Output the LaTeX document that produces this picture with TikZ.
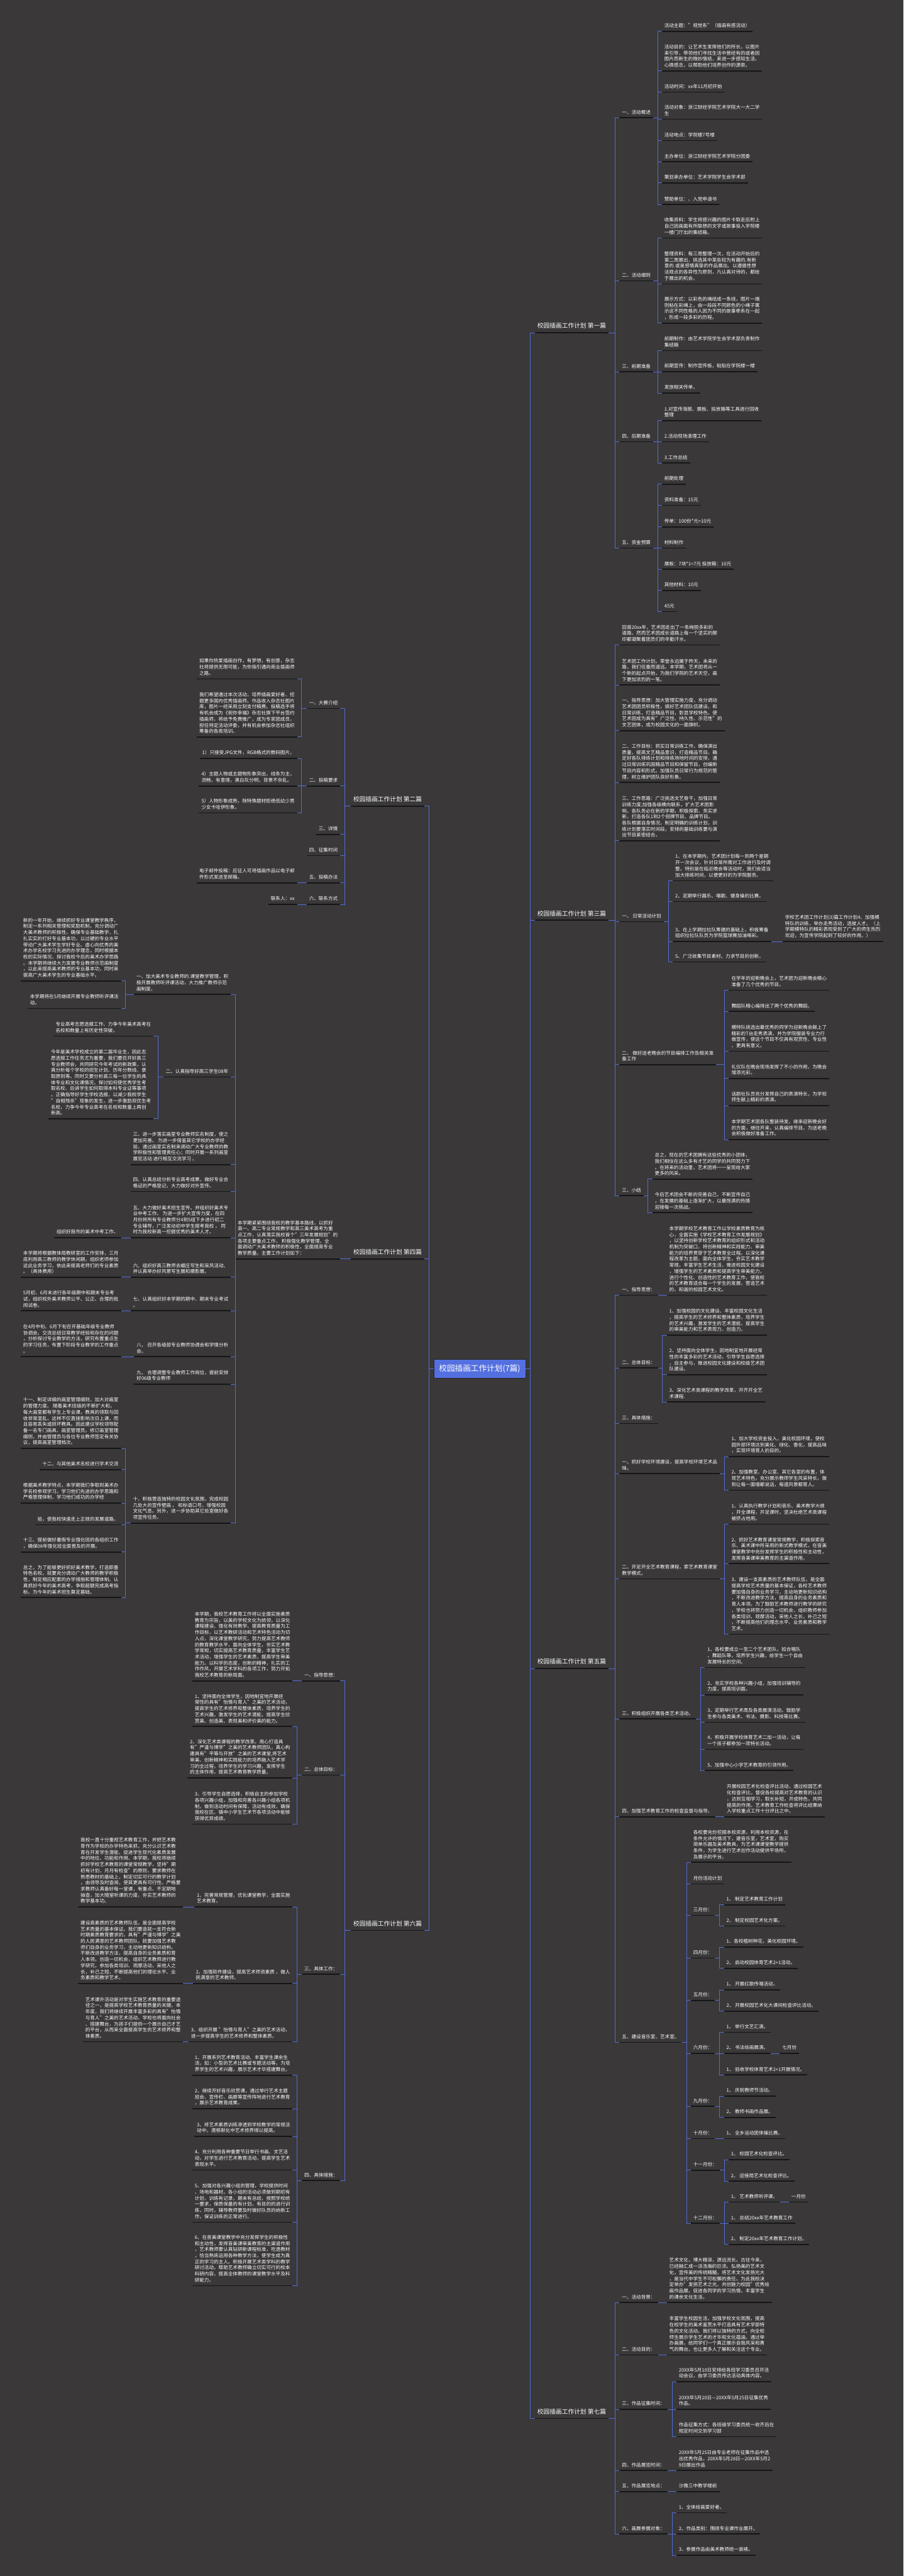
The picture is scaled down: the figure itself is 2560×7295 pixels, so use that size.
\documentclass[tikz,border=0pt]{standalone}
\usepackage{fontspec}
\setmainfont{Noto Sans CJK SC}
\usetikzlibrary{calc}
\definecolor{bgdark}{RGB}{58,56,57}
\definecolor{linkblue}{RGB}{82,108,214}
\definecolor{rootblue}{RGB}{84,112,224}
\definecolor{ulblack}{RGB}{22,22,22}
\newcommand{\leaffont}{\fontsize{13.5}{17.3}\selectfont}
\newcommand{\sheetfont}{\fontsize{17.3}{21}\selectfont}
\newcommand{\centerfont}{\fontsize{22.5}{27}\selectfont}

\begin{document}
\begin{tikzpicture}[x=1pt, y=-1pt,
  every node/.style={text=white, font=\leaffont, align=left, inner xsep=7pt, inner ysep=9.5pt},
  uline/.style={draw=ulblack, line width=3pt},
  topic/.style={append after command={(\tikzlastnode.south west) edge[uline] (\tikzlastnode.south east)}},
  kidR/.style={topic, anchor=south west},
  kidL/.style={topic, anchor=south east},
  sheet/.style={font=\sheetfont, inner ysep=11pt, inner xsep=7.5pt},
  link/.style={draw=linkblue, line width=1.5pt},
  rootbox/.style={fill=rootblue, draw=black!85, line width=1pt, font=\centerfont, minimum width=260pt, minimum height=54pt, inner sep=0pt}]

\useasboundingbox (0,0) rectangle (2560,7295);
\fill[bgdark] (0,0) rectangle (2560,7295);

\node[rootbox] (root) at (1359,3876) {校园插画工作计划(7篇)};

% sheets
\node[kidR, sheet] (p1) at (1515,942) {校园插画工作计划 第一篇};
\node[kidL, sheet] (p2) at (1203,2283) {校园插画工作计划 第二篇};
\node[kidR, sheet] (p3) at (1515,2606) {校园插画工作计划 第三篇};
\node[kidL, sheet] (p4) at (1203,3565) {校园插画工作计划 第四篇};
\node[kidR, sheet] (p5) at (1515,4725) {校园插画工作计划 第五篇};
\node[kidL, sheet] (p6) at (1203,5467) {校园插画工作计划 第六篇};
\node[kidR, sheet] (p7) at (1515,6849) {校园插画工作计划 第七篇};

% first
\node[kidR] (p1a) at (1755,333.5) {一、活动概述};
\node[kidR] (p1a1) at (1875,88.6) {活动主题："视觉系"（插画有感活动）};
\node[kidR] (p1a2) at (1875,200.8) {活动目的：让艺术生发挥他们的所长，以图片\\来引导，带领他们寻找生活中曾经有的或者因\\图片而新生的微妙情结，来进一步感知生活。\\心换感念，以帮助他们培养创作的源泉。};
\node[kidR] (p1a3) at (1875,261) {活动时间：xx年11月初开始};
\node[kidR] (p1a4) at (1875,337.5) {活动对象：浙江财经学院艺术学院大一大二学\\生};
\node[kidR] (p1a5) at (1875,397.8) {活动地点：学院楼7号楼};
\node[kidR] (p1a6) at (1875,458) {主办单位：浙江财经学院艺术学院分团委};
\node[kidR] (p1a7) at (1875,518) {策划承办单位：艺术学院学生会学术部};
\node[kidR] (p1a8) at (1875,579) {赞助单位：、入党申请书};
\node[kidR] (p1b) at (1755,795) {二、活动细则};
\node[kidR] (p1b1) at (1875,674) {收集资料：学生将感兴趣的图片卡取走后附上\\自己因画面有所联想的文字或故事投入学院楼\\一楼门厅出的集结箱。};
\node[kidR] (p1b2) at (1875,804) {整理资料：每三周整理一次，在活动开始后的\\第二周展出，挑选其中某些较为有趣的.有新\\意的.或是感情真挚的作品展出。以遵循性想\\法观点的各异性为原则，凡认真对待的，都给\\于展出的机会。};
\node[kidR] (p1b3) at (1875,915) {展示方式：以彩色的绳结成一条线，图片一端\\则粘在彩绳上，由一段段不同颜色的小绳子寓\\示这不同性格的人因为不同的故事牵系在一起\\，形成一段多彩的历程。};
\node[kidR] (p1c) at (1755,1053) {三、前期准备};
\node[kidR] (p1c1) at (1875,993) {前期制作：由艺术学院学生会学术部负责制作\\集结箱};
\node[kidR] (p1c2) at (1875,1053) {前期宣传：制作宣传板，粘贴在学院楼一楼};
\node[kidR] (p1c3) at (1875,1113) {发放相关传单。};
\node[kidR] (p1d) at (1755,1251) {四、后期准备};
\node[kidR] (p1d1) at (1875,1191) {1.对宣传海报、展板、投放箱等工具进行回收\\整理};
\node[kidR] (p1d2) at (1875,1251) {2.活动现场清理工作};
\node[kidR] (p1d3) at (1875,1311) {3.工作总结};
\node[kidR] (p1e) at (1755,1552) {五、资金预算};
\node[kidR] (p1e1) at (1875,1371) {前期处理};
\node[kidR] (p1e2) at (1875,1431) {资料准备：15元};
\node[kidR] (p1e3) at (1875,1492) {传单：100份*元=10元};
\node[kidR] (p1e4) at (1875,1552) {材料制作};
\node[kidR] (p1e5) at (1875,1612) {展板：7块*1=7元 投放箱：10元};
\node[kidR] (p1e6) at (1875,1672) {其他材料：10元};
\node[kidR] (p1e7) at (1875,1732) {45元};

% second
\node[kidL] (p2a) at (964,2006) {一、大赛介绍};
\node[kidL] (p2a1) at (842,1922.5) {如果你热爱插画创作，有梦想，有创意，杂志\\社将提供无限可能，为你指引通向商业插画师\\之路。};
\node[kidL] (p2a2) at (842,2087) {我们希望通过本次活动，培养插画爱好者、挖\\掘更多国内优秀插画师。作品收入杂志社图片\\库，图片一经采用立刻支付稿费。投稿选手将\\有机会成为《祝你幸福》杂志社旗下平台签约\\插画师，将给予免费推广，成为专家团成员，\\担任特定活动评委，并有机会参加杂志社组织\\筹备的各类培训。};
\node[kidL] (p2b) at (964,2226) {二、投稿要求};
\node[kidL] (p2b1) at (842,2148) {1）只接受JPG文件，RGB格式的数码图片。};
\node[kidL] (p2b2) at (842,2226) {4）主题人物或主题物形象突出，线条为主，\\流畅，有意境，黑白灰分明，背景不杂乱。};
\node[kidL] (p2b3) at (842,2302) {5）人物形象成熟，除特殊题材拒绝低幼少男\\少女卡哇伊形象。};
\node[kidL] (p2c) at (964,2363) {三、详情};
\node[kidL] (p2d) at (964,2423) {四、征集时间};
\node[kidL] (p2e) at (964,2500) {五、投稿办法};
\node[kidL] (p2e1) at (842,2500) {电子邮件投稿：应征人可将插画作品以电子邮\\件形式发送至邮箱。};
\node[kidL] (p2f) at (964,2561) {六、联系方式};
\node[kidL] (p2f1) at (842,2561) {联系人：xx};

% third
\node[kidR] (p3a) at (1755,1826.5) {回首20xx年，艺术团走出了一条绚丽多彩的\\道路，然而艺术团成长道路上每一个坚实的脚\\印都凝聚着团员们的辛勤汗水。};
\node[kidR] (p3b) at (1755,1940) {艺术团工作计划。荣誉永远属于昨天，未来的\\路，我们任重而道远。本学期，艺术团将从一\\个新的起点开始，为我们学院的艺术天空，画\\下更加浓烈的一笔。};
\node[kidR] (p3c) at (1755,2069) {一、指导思想：加大管理实施力度，充分调动\\艺术团团员积极性，搞好艺术团队伍建设，和\\日常训练，打造精品节目，彰显学校特色，使\\艺术团成为具有"广泛性、持久性、示范性"的\\文艺团体，成为校园文化的一面旗帜。};
\node[kidR] (p3d) at (1755,2216) {二、工作目标：抓实日常训练工作，确保演出\\质量，提高文艺精品意识，打造精品节目。确\\定好各队排练计划和排练场地时间的安排，通\\过日常训练巩固精品节目和保留节目，创编新\\节目内容和形式。加强队员日常行为规范的管\\理，树立维护团队良好形象。};
\node[kidR] (p3e) at (1755,2381) {三、工作思路：广泛挑选文艺骨干，加强日常\\训练力度;加强各级横向联系，扩大艺术团影\\响。各队务必在新的学期，积极探索、务实求\\新，打造各队1到2个招牌节目、品牌节目。\\各队根据自身情况，制定明确的训练计划，训\\练计划要落实时间段，安排的基础训练要与演\\出节目紧密结合。};
\node[kidR] (p3f) at (1755,2610) {一、 日常活动计划};
\node[kidR] (p3f1) at (1906,2494) {1、在本学期内，艺术团计划每一到两个星期\\开一次会议，针对日常所需对工作进行及时调\\整。特别是在临近晚会等活动时，我们会适当\\加大排练时间，以便更好的为学院服务。};
\node[kidR] (p3f2) at (1906,2553) {2、定期举行器乐、唱歌、健身操的比赛。};
\node[kidR] (p3f3) at (1906,2666) {3、在上学期拉拉队筹建的基础上，积极筹备\\组织拉拉队队员为学院篮球赛加油喝彩。};
\node[kidR] (p3f3a) at (2217,2666) {学校艺术团工作计划(3)篇工作计划4、加强模\\特队的训练，举办走秀活动，选拔人才。（上\\学期模特队的精彩表现受到了广大的师生热烈\\欢迎，为宣传学院起到了较好的作用。）};
\node[kidR] (p3f4) at (1906,2724) {5、广泛收集节目素材，力求节目的创新。};
\node[kidR] (p3g) at (1755,3015) {二、 做好送老晚会的节目编排工作及相关准\\备工作};
\node[kidR] (p3g1) at (2065,2804) {在学年的迎新晚会上，艺术团为迎新晚会精心\\准备了几个优秀的节目。};
\node[kidR] (p3g2) at (2065,2864) {舞蹈队精心编排出了两个优秀的舞蹈。};
\node[kidR] (p3g3) at (2065,2977) {模特队挑选出最优秀的同学为迎新晚会献上了\\精彩的T台走秀表演，并为学院服装专业力行\\做宣传，使这个节目不仅具有观赏性、专业性\\、更具有意义。};
\node[kidR] (p3g4) at (2065,3054) {礼仪队在晚会现场发挥了不小的作用，为晚会\\增添光彩。};
\node[kidR] (p3g5) at (2065,3131) {话剧社队员充分发挥自己的表演特长，为学校\\师生献上精彩的表演。};
\node[kidR] (p3g6) at (2065,3227) {本学期艺术团各队整装待发，继承迎新晚会好\\的方面，继往开来，认真编排节目。为送老晚\\会积极做好准备工作。};
\node[kidR] (p3h) at (1755,3386) {三、小结};
\node[kidR] (p3h1) at (1848,3339) {总之，现在的艺术团拥有这些优秀的小团体，\\我们相信在这么多有才艺的同学的共同努力下\\。在将来的活动里，艺术团将一一呈现给大家\\更多的风采。};
\node[kidR] (p3h2) at (1848,3434) {今后艺术团会不断的完善自己，不断宣传自己\\，在发展的基础上逐渐扩大，以最饱满的热情\\迎接每一次挑战。};

% fourth
\node[kidL] (p4a) at (964,3565) {本学期紧紧围绕我校的教学基本路线，以抓好\\高一、高二专业常规教学和高三美术高考为重\\点工作，认真落实我校首个"三年发展规划"的\\各项主要重点工作， 积极强化教学管理，全\\面调动广大美术教师的积极性，全面提高专业\\教学质量。主要工作计划如下：};
\node[kidL] (p4a1) at (654,2816) {一、加大美术专业教师的.课堂教学管理，积\\极开展教师听评课活动，大力推广教师示范\\画制度。};
\node[kidL] (p4a1a) at (343,2778) {新的一年开始，继续抓好专业课堂教学秩序，\\制定一系列相关管理和奖励机制。充分调动广\\大美术教师的积极性，确保专业基础教学，扎\\扎实实的打好专业基本功，以过硬的专业水平\\带动广大美术学生学好专业。虚心向优秀的美\\术办学名校学习先进的办学理念，同时根据本\\校的实际情况，探讨我校今后的美术办学思路\\。本学期将继续大力发展专业教师示范画制度\\，以此来提高美术教师的专业基本功，同时来\\提高广大美术学生的专业基础水平。};
\node[kidL] (p4a1b) at (343,2856) {本学期将在5月继续开展专业教师听评课活\\动。};
\node[kidL] (p4a2) at (654,3050) {二、认真指导好高三学生08年};
\node[kidL] (p4a2a) at (435,2934) {专业高考志愿选报工作、力争今年美术高考在\\名校和数量上有历史性突破。};
\node[kidL] (p4a2b) at (435,3168) {今年是美术学校成立的第二届毕业生，因此志\\愿选报工作任务尤为重要，我们要召开好高三\\专业教师会，共同研究今年考试的新政策，认\\真分析每个学校的招生计划、历年分数线、录\\取原则等。同时又要分析高三每一位学生的具\\体专业和文化课情况，探讨如何使优秀学生考\\取名校、后讲学生如何取得本科专业证等事项\\。正确指导好学生学校选报，以减少我校学生\\"自相残杀"现象的发生，进一步激励双优生考\\名校，力争今年专业高考在名校和数量上再创\\新高。};
\node[kidL] (p4a3) at (654,3298) {三、进一步落实画室专业教师实名制度，使之\\更加完善。 为进一步借鉴其它学校的办学经\\验，通过画室实名制来调动广大专业教师的教\\学积极性和管理责任心；同时开展一系列画室\\展览活动 进行相互交流学习 。};
\node[kidL] (p4a4) at (654,3374) {四、认真总结分析专业高考成果，做好专业合\\格证的严格登记，大力做好对外宣传。};
\node[kidL] (p4a5) at (654,3505) {五、大力做好美术招生宣传。并组织好美术专\\业中考工作。 为进一步扩大宣传力度，在四\\月份将所有专业教师分4到5组下乡进行初二\\专业辅导，广泛发动初中学生报考我校 ， 同\\时为我校新高一挖掘优秀的美术人才。};
\node[kidL] (p4a5a) at (343,3505) {组织好我市的美术中考工作。};
\node[kidL] (p4a6) at (654,3617) {六、组织好高三教师去嵋庄写生和采风活动、\\并认真举办好风景写生展和摄影展。};
\node[kidL] (p4a6a) at (343,3617) {本学期将根据教体局教研室的工作安排，三月\\底利用高三教师的教学休闲期，组织老师参加\\这此业务学习，依此来提高老师们的专业素质\\。（具体费用）};
\node[kidL] (p4a7) at (654,3712) {七、认真组织好本学期的期中、期末专业考试\\。};
\node[kidL] (p4a7a) at (343,3712) {5月初、6月末进行各年级期中和期末专业考\\试，组织校外美术教师公平、公正、合理的批\\阅试卷。};
\node[kidL] (p4a8) at (654,3842) {八、 召开各级部专业教师协调会和学情分析\\会。};
\node[kidL] (p4a8a) at (343,3842) {在4月中旬、6月下旬召开基础年级专业教师\\协调会，交流总结日常教学经验和存在的问题\\，分析探讨专业教学的方法，研究布置重点生\\的学习任务，布置下阶段专业教学的工作重点\\。};
\node[kidL] (p4a9) at (654,3920) {九、 合理调整专业教师工作岗位，提前安排\\好06级专业教师};
\node[kidL] (p4a10) at (654,4313) {十、积极营造独特的校园文化氛围，完成校园\\几处大的宣传壁画 ， 和标语口号，增强校园\\文化气息。另外，进一步协助其它处室做好各\\项宣传任务。};
\node[kidL] (p4a10a) at (343,4102) {十一、制定详细的画室管理细则，加大对画室\\的管理力度。 随着美术班级的不断扩大和，\\每大画室都有学生上专业课，教具的领取与回\\收非常混乱，这样不仅直接影响次日上课，而\\且容易丢失或损坏教具。因此建议学校领导配\\备一名专门画具、画室管理员。修订画室管理\\细则，并由管理员与各位专业教师签定有关协\\议，提高画室管理档次。};
\node[kidL] (p4a10b) at (343,4162) {十二、与其他美术名校进行学术交流};
\node[kidL] (p4a10c) at (343,4257) {根据美术教学特点，本学期我们争取到美术办\\学名校参观学习。学习他们先进的办学思路和\\严格管理体制，学习他们成功的办学经};
\node[kidL] (p4a10d) at (343,4318) {验，使我校快速走上正规的发展道路。};
\node[kidL] (p4a10e) at (343,4395) {十三、提前做好暑假专业强化班的各组织工作\\，确保08年强化班全面普及的开展。};
\node[kidL] (p4a10f) at (343,4524) {总之，为了能够更好抓好美术教学，打造即墨\\特色名校。就要充分调动广大教师的教学积极\\性，制定相应配套的办学措施和管理体制。认\\真抓好今年的美术高考，争取超额完成高考指\\标。为今年的美术招生奠定基础。};

% fifth
\node[kidR] (p5a) at (1755,3668) {一、指导思想：};
\node[kidR] (p5a1) at (1889,3668) {本学期学校艺术教育工作以学校素质教育为核\\心，全面实施《学校艺术教育工作发展规划》\\，以坚持创新学校艺术教育的组织形式和活动\\机制为突破口，将创新精神和实践能力、审美\\能力的培养贯穿于艺术教育全过程。以深化课\\程改革为主题，面向全体学生，夯实艺术教学\\常规，丰富学生艺术生活，推进校园文化建设\\，增强学生的艺术素质和提高学生审美能力，\\进行个性化、创造性的艺术教育工作，使我校\\的艺术教育适合每一个学生的发展，营造艺术\\的、和谐的校园艺术文化。};
\node[kidR] (p5b) at (1755,3874) {二、总体目标：};
\node[kidR] (p5b1) at (1889,3781) {1、加强校园的文化建设、丰富校园文化生活\\，提高学生的艺术修养和整体素质，培养学生\\的艺术兴趣，激发学生的艺术潜能，提高学生\\的审美能力和艺术表现力、创造力。};
\node[kidR] (p5b2) at (1889,3893) {2、坚持面向全体学生，因地制宜地开展经常\\性的丰富多彩的艺术活动，引导学生自愿选择\\，自主参与，推进校园文化建设和校级艺术团\\队建设。};
\node[kidR] (p5b3) at (1889,3970) {3、深化艺术类课程的教学改革，开齐开全艺\\术课程.};
\node[kidR] (p5c) at (1755,4031) {三、具体措施：};
\node[kidR] (p5d) at (1755,4173) {一、抓好学校环境建设，提高学校环境艺术品\\味。};
\node[kidR] (p5d1) at (2065,4125) {1、加大学校资金投入，美化校园环境，使校\\园外部环境达到美化、绿化、香化，提高品味\\，实现环境育人的目的。};
\node[kidR] (p5d2) at (2065,4220) {2、加强教室、办公室、其它各室的布置，体\\现艺术特色，充分展示教师学生风采特长，做\\到让每一面墙都说话，每道风景都育人。};
\node[kidR] (p5e) at (1755,4471) {二、开足开全艺术教育课程，索艺术教育课堂\\教学模式。};
\node[kidR] (p5e1) at (2065,4316) {1、认真执行教学计划和音乐、美术教学大纲\\，开全课程，开足课时，坚决杜绝艺术类课程\\被挤占他用。};
\node[kidR] (p5e2) at (2065,4428) {2、抓好艺术教育课堂常规教学，积极探索音\\乐、美术课中所采用的新式教学模式，在音美\\课堂教学中充份发挥学生的积极性和主动性，\\发挥音美课审美教育的主渠道作用。};
\node[kidR] (p5e3) at (2065,4628) {3、建设一支高素质的艺术教师队伍，是全面\\提高学校艺术质量的基本保证，各校艺术教师\\要加强自身的业务学习，主动地更新知识结构\\，不断改进教学方法，提高自身的业务素质和\\育人本领。为了鼓励艺术教师进行教学的研究\\，学校也将努力创造一切机会，组织教师参加\\各类培训，观摩活动，采他人之长，补己之短\\，不断提高他们的理念水平、业务素质和教学\\艺术。};
\node[kidR] (p5f) at (1755,4868) {三、积极组织开展各类艺术活动。};
\node[kidR] (p5f1) at (1997,4722) {1、各校要成立一至二个艺术团队，如合唱队\\、舞蹈队等，培养学生兴趣，给学生一个自由\\发展特长的空间。};
\node[kidR] (p5f2) at (1997,4800) {2、充实学校各种兴趣小组，加强培训辅导的\\力度，提高培训面。};
\node[kidR] (p5f3) at (1997,4877) {3、定期举行艺术周及各类展演活动，鼓励学\\生参与各类美术、书法、摄影、科技等比赛。};
\node[kidR] (p5f4) at (1997,4954) {4、积极开展学校体育艺术二加一活动，让每\\一个孩子都参加一项特长活动。};
\node[kidR] (p5f5) at (1997,5014) {5、加强中心小学艺术教育的引领作用。};
\node[kidR] (p5g) at (1755,5145) {四、加强艺术教育工作的检查监督与指导。};
\node[kidR] (p5g1) at (2052,5145) {开展校园艺术化检查评比活动，通过校园艺术\\化检查评比，督促各校提高对艺术教育的认识\\，达到互相学习，取长补短，开成特色，共同\\提高的作用。艺术教育工作检查将评比结果纳\\入学校重点工作十分评比之中。};
\node[kidR] (p5h) at (1755,5784) {五、建设音乐室、艺术室。};
\node[kidR] (p5h1) at (1957,5274) {各校要充份挖掘本校资源，利用本校资源，在\\条件允许的情况下，建音乐室，艺术室，购买\\简单乐器及美术教具，为艺术课课堂教学提供\\条件，为学生进行艺术创作活动提供平场所，\\及展示的平台。};
\node[kidR] (p5h2) at (1957,5335) {月份活动计划};
\node[kidR] (p5h3) at (1957,5424) {三月份：};
\node[kidR] (p5h3a) at (2051,5394) {1、 制定艺术教育工作计划};
\node[kidR] (p5h3b) at (2051,5454) {2、 制定校园艺术化方案。};
\node[kidR] (p5h4) at (1957,5545) {四月份：};
\node[kidR] (p5h4a) at (2051,5514) {1、各校植树种花，美化校园环境。};
\node[kidR] (p5h4b) at (2051,5574) {2、 启动校园体育艺术2+1活动。};
\node[kidR] (p5h5) at (1957,5665) {五月份：};
\node[kidR] (p5h5a) at (2051,5635) {1、 开展红歌传唱活动。};
\node[kidR] (p5h5b) at (2051,5695) {2、 开展校园艺术化大课间检查评比活动。};
\node[kidR] (p5h6) at (1957,5815) {六月份：};
\node[kidR] (p5h6a) at (2051,5755) {1、 举行文艺汇演。};
\node[kidR] (p5h6b) at (2051,5815) {2、 书法绘画展演。};
\node[kidR] (p5h6d) at (2209,5815) {七月份};
\node[kidR] (p5h6c) at (2051,5876) {1、 验收学校体育艺术2+1开展情况。};
\node[kidR] (p5h7) at (1957,5965) {九月份：};
\node[kidR] (p5h7a) at (2051,5936) {1、 庆祝教师节活动。};
\node[kidR] (p5h7b) at (2051,5996) {2、 教师书画作品展。};
\node[kidR] (p5h8) at (1957,6056) {十月份：};
\node[kidR] (p5h8a) at (2051,6056) {1、 全乡运动团体操比赛。};
\node[kidR] (p5h9) at (1957,6146) {十一月份：};
\node[kidR] (p5h9a) at (2064,6116) {1、 校园艺术化检查评比。};
\node[kidR] (p5h9b) at (2064,6177) {2、 迎接局艺术化检查评比。};
\node[kidR] (p5h10) at (1957,6296) {十二月份：};
\node[kidR] (p5h10a) at (2064,6236) {1、 艺术教师听评课。};
\node[kidR] (p5h10d) at (2235,6236) {一月份};
\node[kidR] (p5h10b) at (2064,6296) {1、 总结20xx年艺术教育工作};
\node[kidR] (p5h10c) at (2064,6356) {2、 制定20xx年艺术教育工作计划。};

% sixth
\node[kidL] (p6a) at (964,4760) {一、指导思想：};
\node[kidL] (p6a1) at (829,4760) {本学期，我校艺术教育工作将以全面实施素质\\教育为宗旨，以美的学校文化为统领，以深化\\课程建设、强化有效教学、提高教育质量为工\\作目标，以艺术教研活动和艺术特色活动为切\\入点，深化课堂教学研究，努力提高艺术教师\\的教育教学水平，面向全体学生，夯实艺术教\\学常规，切实提高艺术教育质量，丰富学生艺\\术活动，增强学生的艺术素质，提高学生审美\\能力。以科学的态度，创新的精神，扎实的工\\作作风，开展艺术学科的各项工作，努力开拓\\我校艺术教育的新局面。};
\node[kidL] (p6b) at (964,5027) {二、总体目标：};
\node[kidL] (p6b1) at (829,4889) {1、坚持面向全体学生，因地制宜地开展经\\常性的具有"怡情与育人"之美的艺术活动，\\提高学生的艺术修养和整体素质，培养学生的\\艺术兴趣，激发学生的艺术潜能，提高学生欣\\赏美、创造美、表现美和评价美的能力。};
\node[kidL] (p6b2) at (829,5035) {2、深化艺术类课程的教学改革。用心打造具\\有"严谨与博学"之美的艺术教师团队，真心构\\建具有"平等与开放"之美的艺术课堂,将艺术\\审美、创新精神和实践能力的培养融入艺术学\\习的全过程，培养学生的学习兴趣，发挥学生\\的主体作用，提高艺术教育教学质量。};
\node[kidL] (p6b3) at (829,5166) {3、引导学生自愿选择，积极自主的参加学校\\各项兴趣小组，加强和完善各兴趣小组各项机\\制，做到活动时间有保障，活动有成效，确保\\我校在区、镇中小学生艺术节各项活动中能够\\获得优异成绩。};
\node[kidL] (p6c) at (964,5591) {三、具体工作：};
\node[kidL] (p6c1) at (829,5400) {1、完善常规管理，优化课堂教学，全面实施\\艺术教育。};
\node[kidL] (p6c1a) at (519,5400) {我校一直十分重视艺术教育工作，并把艺术教\\育作为学校的办学特色来抓，充分认识艺术教\\育在开发学生潜能、促进学生现代化素质发展\\中的地位、功能和作用。本学期，我校将继续\\抓好学校艺术教育的课堂常规教学，坚持"期\\初有计划，月月有检查"的原则，要求教师在\\熟悉教材的基础上，制定切实可行的教学计划\\，由领导及时查阅，使其更具有可行性。严格要\\求教师认真备好每一堂课，有重点、不定期地\\抽查，加大随堂听课的力度，夯实艺术教师的\\教学基本功。};
\node[kidL] (p6c2) at (829,5617) {2、加强软件建设，提高艺术师资素质 ，做人\\民满意的艺术教师。};
\node[kidL] (p6c2a) at (519,5617) {建设高素质的艺术教师队伍，是全面提高学校\\艺术质量的基本保证。我们要造就一支符合新\\时期素质教育要求的，具有"严谨与博学"之美\\的人民满意的艺术教师团队，就要加强艺术教\\师们自身的业务学习，主动地更新知识结构，\\不断改进教学方法，提高自身的业务素质和育\\人本领。创造一切机会，组织艺术教师进行教\\学研究，参加各类培训、观摩活动，采他人之\\长，补己之短，不断提高他们的理论水平、业\\务素质和教学艺术。};
\node[kidL] (p6c3) at (829,5782) {3、组织开展 "怡情与育人"之美的艺术活动，\\进一步提高学生的艺术修养和整体素质。};
\node[kidL] (p6c3a) at (519,5782) {艺术课外活动是对学生实施艺术教育的重要途\\径之一，是提高学校艺术教育质量的关键。本\\年度，我们将继续开展丰富多彩的具有"怡情\\与育人"之美的艺术活动，学校也将面向社会\\、搭建舞台，为孩子们提供一个展示自己才艺\\的平台，从而来全面提高学生的艺术修养和整\\体素质。};
\node[kidL] (p6d) at (964,6175) {四、具体措施：};
\node[kidL] (p6d1) at (829,5877) {1、开展系列艺术教育活动、丰富学生课余生\\活，如：小型的艺术比赛或专题活动等，为培\\养学生的艺术兴趣，展示艺术才华搭建舞台。};
\node[kidL] (p6d2) at (829,5972) {2、继续开好音乐欣赏课，通过举行艺术主题\\班会、宣传栏、画廊等宣传阵地进行艺术教育\\，展示艺术教育成果。};
\node[kidL] (p6d3) at (829,6050) {3、将艺术素质训练渗透到学校教学的常规活\\动中，潜移默化中艺术修养得以提高。};
\node[kidL] (p6d4) at (829,6145) {4、充分利用各种重要节日举行书画、文艺活\\动，对学生进行艺术教育活动，提高学生艺术\\表现水平。};
\node[kidL] (p6d5) at (829,6293) {5、加强对各兴趣小组的管理，学校提供时间\\、场地和器材。各小组的活动必须做到期初有\\计划，训练有记录，期末有总结，按照学校统\\一要求，保质保量的有计划。有目的的进行训\\练，同时，辅导教师要及时做好队员的纳新工\\作，保证训练的正常进行。};
\node[kidL] (p6d6) at (829,6473) {6、在音美课堂教学中充分发挥学生的积极性\\和主动性，发挥音美课审美教育的主渠道作用\\，艺术教师要认真钻研新课程标准，吃透教材\\，恰当熟练运用各种教学方法，使学生成为真\\正的学习的主人。积极开展艺术类学科的教学\\研讨活动，帮助艺术教师确立切实可行的校本\\科研内容，提高全体教师的课堂教学水平及科\\研能力。};

% seventh
\node[kidR] (p7a) at (1755,6520.6) {一、活动背景：};
\node[kidR] (p7a1) at (1889,6520.6) {艺术文化，博大精深，源远流长。古往今来，\\已经融汇成一派浩瀚的巨流。弘扬美的艺术文\\化，宣传美的传统精髓，将艺术文化发扬光大\\，是当代中学生不可松懈的责任。为此我校决\\定举办"发扬艺术之光，共创魅力校园"优秀绘\\画作品展。促进各同学的学习热情，丰富学生\\的课余文化生活。};
\node[kidR] (p7b) at (1755,6669) {二、活动目的：};
\node[kidR] (p7b1) at (1889,6669) {丰富学生校园生活，加强学校文化氛围，提高\\在校学生的美术鉴赏水平打造具有艺术学部特\\色的文化活动。我们将以独特的方式，向全校\\师生展示学生艺术的才华和文化蕴涵。通过举\\办画展，给同学们一个真正展示自我风采和勇\\气的舞台。也让更多人了解和关注这个专业。};
\node[kidR] (p7c) at (1755,6823) {三、作品征集时间：};
\node[kidR] (p7c1) at (1916,6745) {20XX年5月10日安排给各班学习委员召开活\\动会议，由学习委员传达活动具体内容。};
\node[kidR] (p7c2) at (1916,6823) {20XX年5月20日—20XX年5月25日征集优秀\\作品。};
\node[kidR] (p7c3) at (1916,6900.6) {作品征集方式：各班级学习委员统一收齐后在\\规定时间交到学习部};
\node[kidR] (p7d) at (1755,6996) {四、作品展览时间：};
\node[kidR] (p7d1) at (1916,6996) {20XX年5月25日由专业老师在征集作品中选\\出优秀作品，20XX年5月28日—20XX年5月2\\9日展出作品};
\node[kidR] (p7e) at (1755,7056) {五、作品展览地点：};
\node[kidR] (p7e1) at (1916,7056) {沙雅三中教学楼前};
\node[kidR] (p7f) at (1755,7176) {六、画展参展对象：};
\node[kidR] (p7f1) at (1916,7116) {1、全体绘画爱好者。};
\node[kidR] (p7f2) at (1916,7176) {2、作品类别：围绕专业课作业展开。};
\node[kidR] (p7f3) at (1916,7236) {3、参展作品由美术教师统一装裱。};

% links, right side
\foreach \c in {p1,p3,p5,p7} \draw[link] (root.east) -| ([xshift=-13pt]\c.south west) -- (\c.south west);
\foreach \c in {p2,p4,p6} \draw[link] (root.west) -| ([xshift=13pt]\c.south east) -- (\c.south east);

\foreach \p/\kids in {p1/{p1a,p1b,p1c,p1d,p1e},
    p1a/{p1a1,p1a2,p1a3,p1a4,p1a5,p1a6,p1a7,p1a8}, p1b/{p1b1,p1b2,p1b3},
    p1c/{p1c1,p1c2,p1c3}, p1d/{p1d1,p1d2,p1d3}, p1e/{p1e1,p1e2,p1e3,p1e4,p1e5,p1e6,p1e7},
    p3/{p3a,p3b,p3c,p3d,p3e,p3f,p3g,p3h}, p3f/{p3f1,p3f2,p3f3,p3f4}, p3f3/{p3f3a},
    p3g/{p3g1,p3g2,p3g3,p3g4,p3g5,p3g6}, p3h/{p3h1,p3h2},
    p5/{p5a,p5b,p5c,p5d,p5e,p5f,p5g,p5h}, p5a/{p5a1}, p5b/{p5b1,p5b2,p5b3},
    p5d/{p5d1,p5d2}, p5e/{p5e1,p5e2,p5e3}, p5f/{p5f1,p5f2,p5f3,p5f4,p5f5}, p5g/{p5g1},
    p5h/{p5h1,p5h2,p5h3,p5h4,p5h5,p5h6,p5h7,p5h8,p5h9,p5h10},
    p5h3/{p5h3a,p5h3b}, p5h4/{p5h4a,p5h4b}, p5h5/{p5h5a,p5h5b}, p5h6/{p5h6a,p5h6b,p5h6c},
    p5h6b/{p5h6d}, p5h7/{p5h7a,p5h7b}, p5h8/{p5h8a}, p5h9/{p5h9a,p5h9b},
    p5h10/{p5h10a,p5h10b,p5h10c}, p5h10a/{p5h10d},
    p7/{p7a,p7b,p7c,p7d,p7e,p7f}, p7a/{p7a1}, p7b/{p7b1}, p7c/{p7c1,p7c2,p7c3},
    p7d/{p7d1}, p7e/{p7e1}, p7f/{p7f1,p7f2,p7f3}}
  \foreach \c in \kids
    \draw[link] (\p.south east) -| ([xshift=-12pt]\c.south west) -- (\c.south west);

% links, left side
\foreach \p/\kids in {p2/{p2a,p2b,p2c,p2d,p2e,p2f}, p2a/{p2a1,p2a2}, p2b/{p2b1,p2b2,p2b3},
    p2e/{p2e1}, p2f/{p2f1},
    p4/{p4a}, p4a/{p4a1,p4a2,p4a3,p4a4,p4a5,p4a6,p4a7,p4a8,p4a9,p4a10},
    p4a1/{p4a1a,p4a1b}, p4a2/{p4a2a,p4a2b}, p4a5/{p4a5a}, p4a6/{p4a6a}, p4a7/{p4a7a},
    p4a8/{p4a8a}, p4a10/{p4a10a,p4a10b,p4a10c,p4a10d,p4a10e,p4a10f},
    p6/{p6a,p6b,p6c,p6d}, p6a/{p6a1}, p6b/{p6b1,p6b2,p6b3}, p6c/{p6c1,p6c2,p6c3},
    p6c1/{p6c1a}, p6c2/{p6c2a}, p6c3/{p6c3a}, p6d/{p6d1,p6d2,p6d3,p6d4,p6d5,p6d6}}
  \foreach \c in \kids
    \draw[link] (\p.south west) -| ([xshift=12pt]\c.south east) -- (\c.south east);

\end{tikzpicture}
\end{document}
